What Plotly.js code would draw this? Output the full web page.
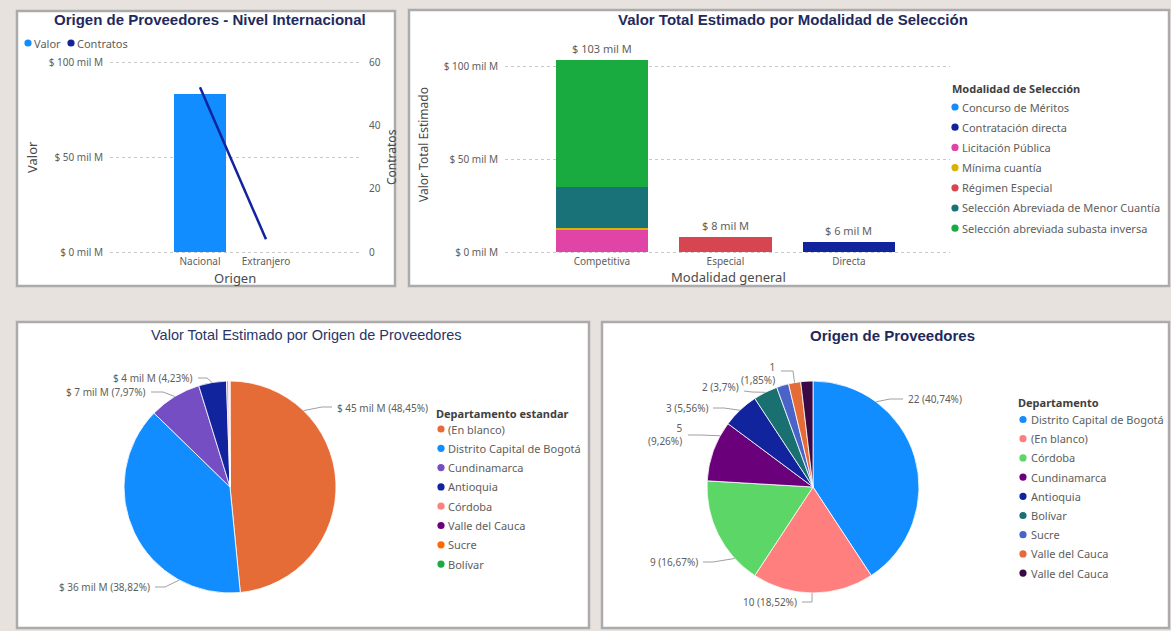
<!DOCTYPE html>
<html><head><meta charset="utf-8">
<script src="https://cdn.plot.ly/plotly-3.0.1.min.js"></script>
<style>html,body{margin:0;padding:0;background:#E8E2DE;} #chart{width:1171px;height:631px;}</style>
</head><body><div id="chart"></div>
<script>
// ---------- DATA ----------
// Panel 1: Origen de Proveedores - Nivel Internacional
const origenCategorias = ['Nacional', 'Extranjero'];
const serieNombres = ['Valor', 'Contratos'];
const origenValor = [83, 0];          // mil M
const origenContratos = [52, 4];
const valorTicks = [0, 50, 100];
const contratosTicks = [0, 20, 40, 60];

// Panel 2: Valor Total Estimado por Modalidad de Selección (mil M)
const modalidadGeneral = ['Competitiva', 'Especial', 'Directa'];
const modalidades = ['Concurso de Méritos', 'Contratación directa', 'Licitación Pública', 'Mínima cuantía',
  'Régimen Especial', 'Selección Abreviada de Menor Cuantía', 'Selección abreviada subasta inversa'];
const valorConcurso = [0.2, 0, 0];
const valorContratacionDirecta = [0, 0, 5.6];
const valorLicitacion = [11.8, 0, 0];
const valorMinima = [0.8, 0, 0];
const valorRegimen = [0, 8.2, 0];
const valorMenorCuantia = [22.0, 0, 0];
const valorSubasta = [68.2, 0, 0];

// Panel 3: Valor Total Estimado por Origen de Proveedores (mil M)
const deptoEstandar = ['(En blanco)', 'Distrito Capital de Bogotá', 'Cundinamarca', 'Antioquia',
  'Córdoba', 'Valle del Cauca', 'Sucre', 'Bolívar'];
const valorDepto = [45.00, 36.06, 7.40, 3.93, 0.28, 0.10, 0.06, 0.05];

// Panel 4: Origen de Proveedores (contratos)
const departamentos = ['Distrito Capital de Bogotá', '(En blanco)', 'Córdoba', 'Cundinamarca', 'Antioquia',
  'Bolívar', 'Sucre', 'Valle del Cauca', 'Valle del Cauca'];
const contratosDepto = [22, 10, 9, 5, 3, 2, 1, 1, 1];

// ---------- STYLE ----------
const W = 1171, H = 631;
const X = p => p / W, Y = p => 1 - p / H;
const GREY = '#605E5C', NAVY = '#1F2A5C';
const FONT = 'Noto Sans, Open Sans, sans-serif';
const TFONT = 'Liberation Sans, Arial, sans-serif';
const modalColors = ['#118DFF', '#12239E', '#E044A7', '#D9B300', '#D64550', '#197278', '#1AAB40'];
const deptoEstColors = ['#E66C37', '#118DFF', '#744EC2', '#12239E', '#FF8080', '#6B007B', '#FE6A00', '#1AAB40'];
const deptoColors = ['#118DFF', '#FF7F7F', '#5BD667', '#6B007B', '#12239E', '#1A7070', '#4A63C8', '#E66C37', '#3B0A45'];
const pie3 = {cx: 230, cy: 487, r: 106};
const pie4 = {cx: 813, cy: 487, r: 106};

const fmtPct = v => parseFloat(v.toFixed(2)).toString().replace('.', ',');
const money = v => '$ ' + Math.round(v) + ' mil M';

// ---------- TRACES ----------
const traces = [];
traces.push({type: 'bar', x: origenCategorias, y: origenValor, name: serieNombres[0], xaxis: 'x', yaxis: 'y',
  marker: {color: '#118DFF'}, width: 0.8, showlegend: false, hoverinfo: 'none'});
traces.push({type: 'scatter', mode: 'lines', x: origenCategorias, y: origenContratos, name: serieNombres[1],
  xaxis: 'x', yaxis: 'y2', line: {color: '#12239E', width: 2.5}, showlegend: false, hoverinfo: 'none'});

const modalSeries = [valorConcurso, valorContratacionDirecta, valorLicitacion, valorMinima, valorRegimen, valorMenorCuantia, valorSubasta];
modalSeries.forEach((s, i) => traces.push({type: 'bar', x: modalidadGeneral, y: s, name: modalidades[i],
  xaxis: 'x2', yaxis: 'y3', width: 0.75, marker: {color: modalColors[i]}, showlegend: false, hoverinfo: 'none'}));

traces.push({type: 'pie', labels: deptoEstandar, values: valorDepto, sort: false, direction: 'clockwise', rotation: 0,
  marker: {colors: deptoEstColors, line: {color: '#ffffff', width: 0.8}}, textinfo: 'none', showlegend: false, hoverinfo: 'none',
  domain: {x: [X(pie3.cx - pie3.r), X(pie3.cx + pie3.r)], y: [Y(pie3.cy + pie3.r), Y(pie3.cy - pie3.r)]}});
traces.push({type: 'pie', labels: departamentos.map((d, i) => d + '\u200b'.repeat(i)), values: contratosDepto, sort: false,
  direction: 'clockwise', rotation: 0,
  marker: {colors: deptoColors, line: {color: '#ffffff', width: 0.8}}, textinfo: 'none', showlegend: false, hoverinfo: 'none',
  domain: {x: [X(pie4.cx - pie4.r), X(pie4.cx + pie4.r)], y: [Y(pie4.cy + pie4.r), Y(pie4.cy - pie4.r)]}});

// ---------- SHAPES (panels) ----------
const shapes = [];
const panels = [[17, 11, 395, 286], [409, 10, 1169, 286], [17, 322, 589, 628], [602, 322, 1169, 628]];
panels.forEach(p => shapes.push({type: 'rect', xref: 'paper', yref: 'paper', layer: 'below',
  x0: X(p[0]), x1: X(p[2]), y0: Y(p[3]), y1: Y(p[1]), fillcolor: '#ffffff', line: {color: '#ABABAB', width: 2.5}}));

// ---------- ANNOTATIONS ----------
const ann = [];
function txt(x, y, text, o) {
  o = o || {};
  ann.push(Object.assign({xref: 'paper', yref: 'paper', x: X(x), y: Y(y), text: text, showarrow: false,
    xanchor: 'center', yanchor: 'middle', font: {family: FONT, size: 10, color: GREY}}, o));
}
function legendItem(dx, tx, y, color, label) {
  const r = 3.6;
  shapes.push({type: 'circle', xref: 'paper', yref: 'paper', layer: 'above',
    x0: X(dx - r), x1: X(dx + r), y0: Y(y + r), y1: Y(y - r), fillcolor: color, line: {width: 0}});
  txt(tx, y, label, {xanchor: 'left', font: {family: FONT, size: 11, color: GREY}});
}
// Titles
txt(210, 19, '<b>Origen de Proveedores - Nivel Internacional</b>', {font: {family: TFONT, size: 15, color: NAVY}});
txt(793, 19, '<b>Valor Total Estimado por Modalidad de Selección</b>', {font: {family: TFONT, size: 15, color: NAVY}});
txt(306, 335, 'Valor Total Estimado por Origen de Proveedores', {font: {family: TFONT, size: 14.5, color: '#2A3566'}});
txt(892, 335, '<b>Origen de Proveedores</b>', {font: {family: TFONT, size: 15, color: NAVY}});

// Panel 1 legend + axis titles
const p1Colors = ['#118DFF', '#12239E'];
const p1DotX = [28, 71];
serieNombres.forEach((n, i) => legendItem(p1DotX[i], p1DotX[i] + 4, 43, p1Colors[i], n));
txt(32, 157, 'Valor', {textangle: -90, font: {family: FONT, size: 13, color: '#4A4A4A'}});
txt(391, 157, 'Contratos', {textangle: -90, font: {family: FONT, size: 12, color: '#4A4A4A'}});
txt(235, 278, 'Origen', {font: {family: FONT, size: 13, color: '#4A4A4A'}});

// Panel 2 axis titles + legend
txt(423, 145, 'Valor Total Estimado', {textangle: -90, font: {family: FONT, size: 12, color: '#4A4A4A'}});
txt(728, 277, 'Modalidad general', {font: {family: FONT, size: 13, color: '#4A4A4A'}});
txt(950, 89, '<b>Modalidad de Selección</b>', {xanchor: 'left', font: {family: FONT, size: 11, color: '#404040'}});
modalidades.forEach((m, i) => legendItem(955, 960, 107 + i * 20.2, modalColors[i], m));
// Bar totals
modalidadGeneral.forEach((c, j) => {
  const tot = modalSeries.reduce((a, s) => a + s[j], 0);
  ann.push({xref: 'x2', yref: 'y3', x: c, y: tot, text: money(tot), showarrow: false, yanchor: 'bottom', yshift: 2,
    font: {family: FONT, size: 11, color: GREY}});
});

// Panel 3 legend
txt(434, 413, '<b>Departamento estandar</b>', {xanchor: 'left', font: {family: FONT, size: 11, color: '#404040'}});
deptoEstandar.forEach((d, i) => legendItem(441, 446, 429 + i * 19.3, deptoEstColors[i], d));
// Panel 4 legend
txt(1016, 403, '<b>Departamento</b>', {xanchor: 'left', font: {family: FONT, size: 11, color: '#404040'}});
departamentos.forEach((d, i) => legendItem(1023, 1029, 419.5 + i * 19.2, deptoColors[i], d));

// Pie labels with leader lines
const tot3 = valorDepto.reduce((a, b) => a + b, 0);
const tot4 = contratosDepto.reduce((a, b) => a + b, 0);
const lbl3 = [
  {i: 0, tx: 335, ty: 408, anchor: 'left', start: [332, 407], elbow: [322, 407], ang: 43.9},
  {i: 3, tx: 195, ty: 378, anchor: 'right', start: [198, 378], elbow: [207, 378], ang: -9.7},
  {i: 2, tx: 148, ty: 392, anchor: 'right', start: [151, 392], elbow: [163, 392], ang: -31.4},
  {i: 1, tx: 152, ty: 587, anchor: 'right', start: [155, 587], elbow: [165, 587], ang: 208.6}
];
const lbl4 = [
  {i: 0, tx: 906, ty: 399, anchor: 'left', start: [903, 399], elbow: [890, 399], ang: 36.5},
  {i: 1, tx: 799, ty: 602, anchor: 'right', start: [802, 602], elbow: [812, 602], ang: 180.5},
  {i: 2, tx: 700, ty: 562, anchor: 'right', start: [703, 562], elbow: [713, 562], ang: 227.6},
  {i: 3, tx: 684, ty: 435, anchor: 'right', start: [688, 435], elbow: [700, 435], ang: 298.9, br: true},
  {i: 4, tx: 710, ty: 408, anchor: 'right', start: [713, 408], elbow: [724, 408], ang: 316.4},
  {i: 5, tx: 741, ty: 387, anchor: 'right', start: [744, 391], elbow: [752, 392], ang: 333.3},
  {i: 7, tx: 777, ty: 373, anchor: 'right', start: [781, 371], elbow: [793, 371], ang: 350, br: true}
];
function leader(L, pie, text) {
  const a = L.ang * Math.PI / 180;
  const ex = pie.cx + pie.r * Math.sin(a), ey = pie.cy - pie.r * Math.cos(a);
  shapes.push({type: 'path', xref: 'paper', yref: 'paper', layer: 'above',
    path: 'M' + X(L.start[0]) + ',' + Y(L.start[1]) + ' L' + X(L.elbow[0]) + ',' + Y(L.elbow[1]) + ' L' + X(ex) + ',' + Y(ey),
    line: {color: '#A0A0A0', width: 1}});
  txt(L.tx, L.ty, text, {xanchor: L.anchor, align: L.anchor, font: {family: FONT, size: 10, color: GREY}});
}
lbl3.forEach(L => leader(L, pie3, money(valorDepto[L.i]) + ' (' + fmtPct(valorDepto[L.i] / tot3 * 100) + '%)'));
lbl4.forEach(L => leader(L, pie4, contratosDepto[L.i] + (L.br ? '<br>' : ' ') + '(' + fmtPct(contratosDepto[L.i] / tot4 * 100) + '%)'));

// ---------- LAYOUT ----------
const tickF = {family: FONT, size: 10, color: GREY};
// pixel scales: panel 1 -> 1.9 px per mil M, panel 2 -> 1.86 px per mil M
const layout = {
  width: W, height: H, margin: {l: 0, r: 0, t: 0, b: 0},
  paper_bgcolor: '#E8E2DE', plot_bgcolor: 'rgba(0,0,0,0)',
  font: {family: FONT, color: GREY}, barmode: 'stack', showlegend: false,
  xaxis: {domain: [X(110), X(362)], type: 'category', range: [-1.364, 2.455], anchor: 'y', showgrid: false,
    zeroline: false, showline: false, ticks: '', tickfont: tickF, fixedrange: true},
  yaxis: {domain: [Y(252 + 1.9), Y(62 - 1.5 * 1.9)], range: [-1, 101.5], anchor: 'x', tickvals: valorTicks, ticktext: valorTicks.map(money),
    showgrid: true, griddash: 'dot', gridcolor: '#C8C8C8', gridwidth: 1, zeroline: false, ticks: '', tickfont: tickF,
    ticklabelstandoff: 6, fixedrange: true},
  yaxis2: {overlaying: 'y', side: 'right', anchor: 'x', range: [-0.6, 60.9], tickvals: contratosTicks, showgrid: false,
    zeroline: false, ticks: '', tickfont: tickF, ticklabelstandoff: 6, fixedrange: true},
  xaxis2: {domain: [X(505), X(950)], type: 'category', range: [-0.785, 2.818], anchor: 'y3', showgrid: false,
    zeroline: false, ticks: '', tickfont: tickF, fixedrange: true},
  yaxis3: {domain: [Y(252 + 1.86), Y(40)], range: [-1, 114], anchor: 'x2', tickvals: valorTicks, ticktext: valorTicks.map(money),
    showgrid: true, griddash: 'dot', gridcolor: '#C8C8C8', gridwidth: 1, zeroline: false, ticks: '', tickfont: tickF,
    ticklabelstandoff: 6, fixedrange: true},
  shapes: shapes, annotations: ann
};
Plotly.newPlot('chart', traces, layout, {staticPlot: true, displayModeBar: false});
</script></body></html>
